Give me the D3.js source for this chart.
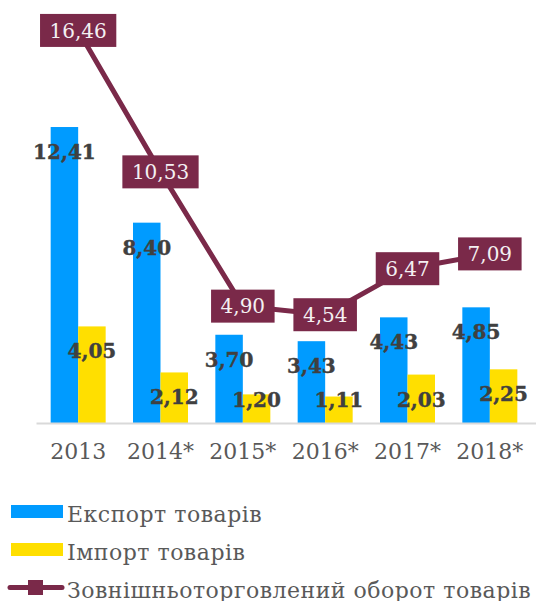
<!DOCTYPE html>
<html>
<head>
<meta charset="utf-8">
<script src="https://cdn.jsdelivr.net/npm/d3@7"></script>
<style>
  html, body { margin: 0; padding: 0; background: #fff; }
  svg { display: block; }
</style>
</head>
<body>
<svg id="chart" width="536" height="601"></svg>
<script>
// Years (with * marking preliminary data)
const years = ["2013", "2014*", "2015*", "2016*", "2017*", "2018*"];
// Goods exports, bn USD
const exportValues = [12.41, 8.40, 3.70, 3.43, 4.43, 4.85];
// Goods imports, bn USD
const importValues = [4.05, 2.12, 1.20, 1.11, 2.03, 2.25];
// Total foreign trade turnover of goods, bn USD
const turnoverValues = [16.46, 10.53, 4.90, 4.54, 6.47, 7.09];
// Legend labels
const legendLabels = ["Експорт товарів", "Імпорт товарів", "Зовнішньоторговлений оборот товарів"];

const colors = { export: "#009BFF", import: "#FFDF00", turnover: "#7A2949" };
const fontFamily = "'DejaVu Serif', serif";
const fmt = v => v.toFixed(2).replace(".", ",");

const svg = d3.select("#chart");

const baseY = 423;
const pxPerUnit = 23.85;
const yMax = 18;
const y = d3.scaleLinear().domain([0, yMax]).range([baseY, baseY - yMax * pxPerUnit]);

const x0 = d3.scaleBand().domain(years).range([37, 531]).paddingInner(0.332).paddingOuter(0.166);
const x1 = d3.scaleBand().domain(["export", "import"]).range([0, x0.bandwidth()]).padding(0);

const rows = years.map((yr, i) => ({
  year: yr,
  values: [
    { key: "export", value: exportValues[i] },
    { key: "import", value: importValues[i] }
  ]
}));

// Bars
const groups = svg.append("g").selectAll("g")
  .data(rows).join("g")
  .attr("transform", d => `translate(${x0(d.year)},0)`);

groups.selectAll("rect")
  .data(d => d.values).join("rect")
  .attr("x", d => x1(d.key))
  .attr("width", x1.bandwidth())
  .attr("y", d => y(d.value))
  .attr("height", d => y(0) - y(d.value))
  .attr("fill", d => colors[d.key]);

// Bar value labels (inside end, kept above the axis)
groups.selectAll("text")
  .data(d => d.values).join("text")
  .attr("x", d => x1(d.key) + x1.bandwidth() / 2)
  .attr("y", d => Math.min(y(d.value) + 32, y(0) - 16))
  .attr("text-anchor", "middle")
  .attr("font-family", fontFamily)
  .attr("font-weight", "bold")
  .attr("font-size", 20)
  .attr("fill", "#404040")
  .attr("stroke", "#404040")
  .attr("stroke-width", 0.4)
  .text(d => fmt(d.value));

// Category axis
const axis = svg.append("g").attr("transform", `translate(0,${baseY})`)
  .call(d3.axisBottom(x0).tickSize(0).tickPadding(0));
axis.select(".domain").remove();
svg.append("line")
  .attr("x1", 36.5).attr("x2", 536)
  .attr("y1", baseY + 0.5).attr("y2", baseY + 0.5)
  .attr("stroke", "#d9d9d9").attr("stroke-width", 2);
axis.selectAll(".tick text")
  .attr("y", 36)
  .attr("dy", 0)
  .attr("font-family", fontFamily)
  .attr("font-size", 22)
  .attr("fill", "#595959");

// Turnover line
const cx = i => x0(years[i]) + x0.bandwidth() / 2;
const line = d3.line().x((d, i) => cx(i)).y(d => y(d));
svg.append("path")
  .datum(turnoverValues)
  .attr("d", line)
  .attr("fill", "none")
  .attr("stroke", colors.turnover)
  .attr("stroke-width", 5);

// Turnover labels in filled boxes
const tl = svg.append("g").selectAll("g")
  .data(turnoverValues).join("g")
  .attr("transform", (d, i) => `translate(${cx(i)},${y(d)})`);
tl.append("text")
  .attr("text-anchor", "middle")
  .attr("dy", "0.36em")
  .attr("font-family", fontFamily)
  .attr("font-size", 20)
  .attr("fill", "#f4f0f2")
  .text(d => fmt(d));
tl.insert("rect", "text")
  .each(function () {
    const w = this.parentNode.querySelector("text").getComputedTextLength() + 19;
    d3.select(this)
      .attr("x", -w / 2).attr("width", w)
      .attr("y", -16.5).attr("height", 33);
  })
  .attr("fill", colors.turnover);

// Legend
const legend = svg.append("g")
  .attr("font-family", fontFamily).attr("font-size", 22)
  .attr("letter-spacing", 0.5).attr("fill", "#595959");
const legendRows = [
  { label: legendLabels[0], type: "bar", color: colors.export, cy: 511.5 },
  { label: legendLabels[1], type: "bar", color: colors.import, cy: 549.5 },
  { label: legendLabels[2], type: "line", color: colors.turnover, cy: 587.5 }
];
legendRows.forEach(r => {
  if (r.type === "bar") {
    legend.append("rect")
      .attr("x", 11).attr("y", r.cy - 6.5).attr("width", 52).attr("height", 13)
      .attr("fill", r.color);
  } else {
    legend.append("line")
      .attr("x1", 10).attr("x2", 62).attr("y1", r.cy).attr("y2", r.cy)
      .attr("stroke", r.color).attr("stroke-width", 5).attr("stroke-linecap", "round");
    legend.append("rect")
      .attr("x", 28).attr("y", r.cy - 7.5).attr("width", 15).attr("height", 15)
      .attr("fill", r.color);
  }
  legend.append("text")
    .attr("x", 67).attr("y", r.cy + 10)
    .text(r.label);
});
</script>
</body>
</html>
